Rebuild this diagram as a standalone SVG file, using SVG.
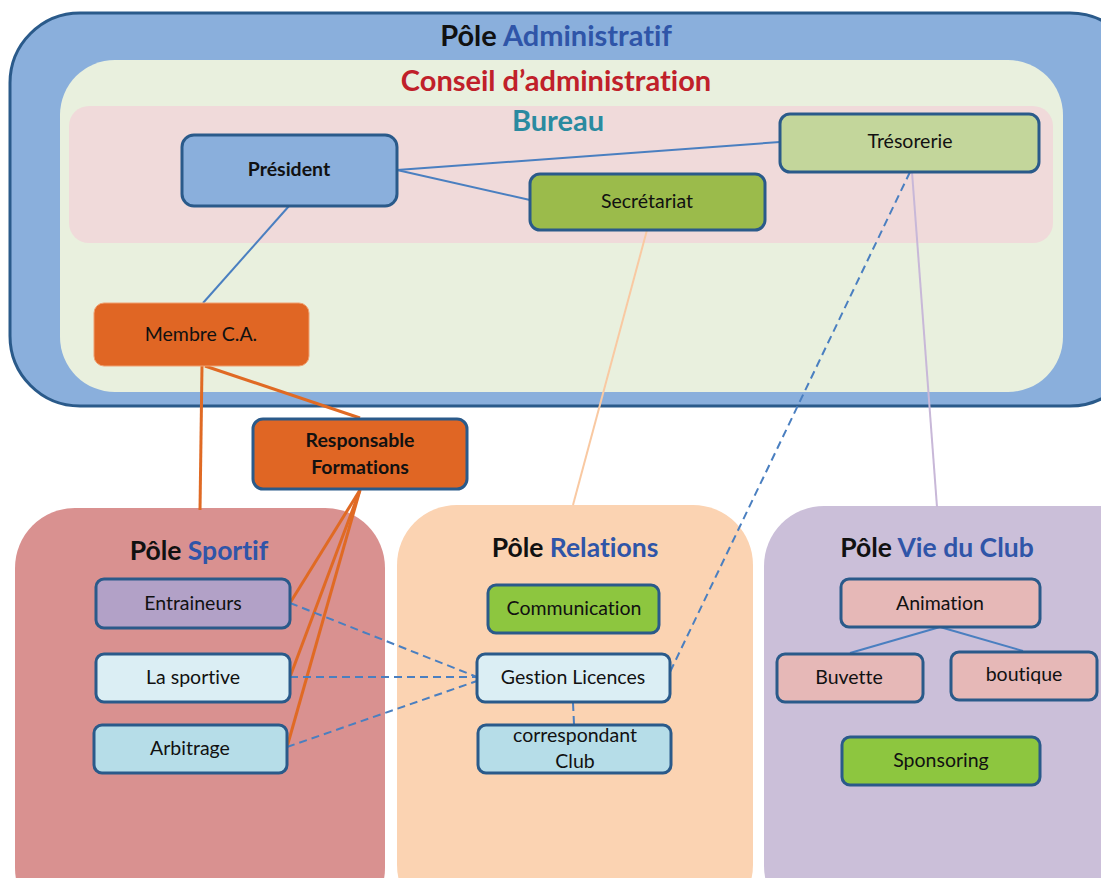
<svg xmlns="http://www.w3.org/2000/svg" width="1101" height="878" viewBox="0 0 1101 878">
<style>
text{font-family:Lato,"Open Sans","Liberation Sans",sans-serif;text-anchor:middle;fill:#111;font-variant-ligatures:none;font-feature-settings:"liga" 0,"clig" 0}
.t{font-size:19.5px}
.b{font-weight:bold}
.h{font-size:29px;font-weight:bold}
.p{font-size:26.5px;font-weight:bold}
.blue{fill:#2f55a8}
.node{stroke:#2a5a8a;stroke-width:3}
.ln{fill:none;stroke:#4a7fc0;stroke-width:2}
.dash{fill:none;stroke:#4a7fc0;stroke-width:2;stroke-dasharray:8 5}
.or{fill:none;stroke:#e06a24;stroke-width:3}
</style>
<rect width="1101" height="878" fill="#ffffff"/>
<g id="pole-admin">
<rect x="10" y="13" width="1130" height="393" rx="70" fill="#8aafdc" stroke="#2a5a8a" stroke-width="3"/>
<text x="556" y="46" class="h">Pôle <tspan class="blue">Administratif</tspan></text>
</g>
<g id="conseil">
<rect x="60" y="60" width="1003" height="332" rx="55" fill="#e9f0de"/>
<text x="556" y="91" class="h" style="fill:#c0202a">Conseil d’administration</text>
</g>
<g id="bureau">
<rect x="69" y="106" width="984" height="137" rx="20" fill="#f0dada"/>
<text x="558" y="131" class="h" style="fill:#2a8aa0">Bureau</text>
</g>
<g id="pole-sportif">
<rect x="15" y="508" width="370" height="420" rx="60" fill="#d99190"/>
<text x="199" y="560" class="p">Pôle <tspan class="blue">Sportif</tspan></text>
</g>
<g id="pole-relations">
<rect x="397" y="505" width="356" height="420" rx="60" fill="#fbd3b2"/>
<text x="575" y="557" class="p">Pôle <tspan class="blue">Relations</tspan></text>
</g>
<g id="pole-vie">
<rect x="764" y="506" width="400" height="420" rx="60" fill="#cbbfd9"/>
<text x="937" y="557" class="p">Pôle <tspan class="blue">Vie du Club</tspan></text>
</g>
<g id="connectors">
<line x1="397" y1="170" x2="780" y2="142" class="ln"/>
<line x1="397" y1="170" x2="530" y2="200" class="ln"/>
<line x1="289" y1="206" x2="203" y2="303" class="ln"/>
<line x1="202" y1="366" x2="200" y2="510" class="or"/>
<line x1="205" y1="366" x2="360" y2="418" class="or"/>
<line x1="360" y1="490" x2="290" y2="603" class="or"/>
<line x1="360" y1="490" x2="290" y2="677" class="or"/>
<line x1="360" y1="490" x2="287" y2="747" class="or"/>
<line x1="647" y1="230" x2="573" y2="505" stroke="#f9c9a2" stroke-width="2"/>
<line x1="910" y1="172" x2="670" y2="672" class="dash"/>
<line x1="912" y1="172" x2="937" y2="507" stroke="#c8b8d8" stroke-width="2"/>
<line x1="290" y1="603" x2="477" y2="677" class="dash"/>
<line x1="290" y1="677" x2="477" y2="677" class="dash"/>
<line x1="287" y1="747" x2="477" y2="681" class="dash"/>
<line x1="573" y1="703" x2="574" y2="724" class="dash"/>
<line x1="940" y1="627" x2="850" y2="653" class="ln"/>
<line x1="940" y1="627" x2="1023" y2="651" class="ln"/>
</g>
<g id="president">
<rect x="182" y="135" width="215" height="71" rx="12" fill="#8aafdc" class="node"/>
<text x="289" y="176" class="t b">Président</text>
</g>
<g id="tresorerie">
<rect x="780" y="114" width="259" height="58" rx="10" fill="#c3d69b" class="node"/>
<text x="910" y="148" class="t">Trésorerie</text>
</g>
<g id="secretariat">
<rect x="530" y="174" width="235" height="56" rx="10" fill="#9bbb4b" class="node"/>
<text x="647" y="208" class="t">Secrétariat</text>
</g>
<g id="membre-ca">
<rect x="94" y="303" width="215" height="63" rx="10" fill="#e06624" stroke="#f0a070" stroke-width="1"/>
<text x="201" y="341" class="t">Membre C.A.</text>
</g>
<g id="responsable-formations">
<rect x="253" y="419" width="214" height="70" rx="10" fill="#e06624" class="node"/>
<text x="360" y="447" class="t b">Responsable</text>
<text x="360" y="474" class="t b">Formations</text>
</g>
<g id="entraineurs">
<rect x="96" y="579" width="194" height="49" rx="8" fill="#b2a1c7" class="node"/>
<text x="193" y="610" class="t">Entraineurs</text>
</g>
<g id="la-sportive">
<rect x="96" y="654" width="194" height="48" rx="8" fill="#dbeef4" class="node"/>
<text x="193" y="684" class="t">La sportive</text>
</g>
<g id="arbitrage">
<rect x="94" y="725" width="193" height="48" rx="8" fill="#b6dde8" class="node"/>
<text x="190" y="755" class="t">Arbitrage</text>
</g>
<g id="communication">
<rect x="488" y="585" width="171" height="48" rx="8" fill="#8dc63f" class="node"/>
<text x="574" y="615" class="t">Communication</text>
</g>
<g id="gestion-licences">
<rect x="477" y="654" width="193" height="48" rx="8" fill="#dbeef4" class="node"/>
<text x="573" y="684" class="t">Gestion Licences</text>
</g>
<g id="correspondant-club">
<rect x="478" y="725" width="193" height="48" rx="8" fill="#b6dde8" class="node"/>
<text x="575" y="742" class="t">correspondant</text>
<text x="575" y="768" class="t">Club</text>
</g>
<g id="animation">
<rect x="841" y="579" width="199" height="48" rx="8" fill="#e6b8b7" class="node"/>
<text x="940" y="610" class="t">Animation</text>
</g>
<g id="buvette">
<rect x="777" y="654" width="146" height="48" rx="8" fill="#e6b8b7" class="node"/>
<text x="849" y="684" class="t">Buvette</text>
</g>
<g id="boutique">
<rect x="951" y="652" width="146" height="48" rx="8" fill="#e6b8b7" class="node"/>
<text x="1024" y="681" class="t">boutique</text>
</g>
<g id="sponsoring">
<rect x="842" y="737" width="198" height="48" rx="8" fill="#8dc63f" class="node"/>
<text x="941" y="767" class="t">Sponsoring</text>
</g>
</svg>
